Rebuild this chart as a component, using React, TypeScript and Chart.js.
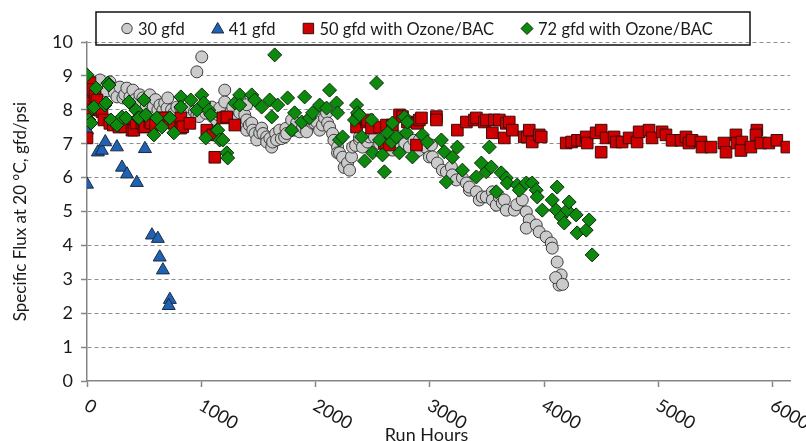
import { useEffect, useRef } from "react";
import { Chart, registerables } from "chart.js";
Chart.register(...registerables);

const FONT = "Lato, 'Open Sans', sans-serif";
const TEXT_COLOR = "#1a1a1a";
const AXIS_COLOR = "#858585";

const SERIES_NAMES = ["30 gfd", "41 gfd", "50 gfd with Ozone/BAC", "72 gfd with Ozone/BAC"];
const X_TICKS = [0, 1000, 2000, 3000, 4000, 5000, 6000];
const X_MAX = 6150;
const Y_MIN = 0;
const Y_MAX = 10;
const X_TITLE = "Run Hours";
const Y_TITLE = "Specific Flux at 20 \u00B0C, gfd/psi";

// [run hours, specific flux]
const gfd30: [number, number][] = [
  [10, 8.75], [30, 8.7], [60, 8.8], [80, 8.6], [114, 8.88], [130, 8.5], [157, 8.64], [170, 8.55],
  [201, 8.82], [227, 8.64], [240, 8.5], [262, 8.38], [288, 8.67], [314, 8.35], [330, 8.45], [349, 8.64],
  [376, 8.38], [402, 8.58], [420, 8.3], [437, 8.2], [463, 8.44], [489, 8.35], [520, 8.25], [520, 8.1],
  [550, 8.44], [560, 8.2], [580, 8.1], [600, 8.3], [620, 8.0], [638, 8.14], [664, 7.99], [680, 8.2],
  [700, 8.05], [707, 8.35], [740, 8.0], [760, 7.9], [786, 8.08], [820, 8.05], [838, 7.94], [860, 7.9],
  [880, 7.85], [900, 8.08], [940, 7.95], [961, 7.85], [961, 9.12], [980, 7.8], [1004, 9.56], [1040, 7.9],
  [1060, 8.0], [1092, 8.08], [1100, 7.79], [1130, 7.7], [1150, 7.85], [1161, 8.05], [1188, 7.79], [1205, 8.58],
  [1205, 8.23], [1240, 7.85], [1260, 7.95], [1275, 8.08], [1300, 7.65], [1320, 7.75], [1336, 8.3], [1336, 7.91],
  [1362, 7.55], [1380, 7.85], [1397, 7.7], [1397, 8.15], [1397, 7.4], [1420, 7.55], [1441, 7.61], [1450, 7.4],
  [1470, 7.3], [1485, 7.11], [1511, 7.32], [1528, 7.46], [1540, 7.3], [1572, 7.2], [1572, 7.05], [1600, 7.15],
  [1616, 6.9], [1624, 7.05], [1650, 7.3], [1659, 7.11], [1685, 7.4], [1700, 7.15], [1729, 7.2], [1740, 7.45],
  [1747, 7.3], [1790, 7.7], [1799, 7.4], [1830, 7.4], [1834, 7.61], [1860, 7.35], [1886, 7.49], [1900, 7.6],
  [1921, 7.46], [1921, 7.35], [1947, 7.7], [1974, 7.61], [1991, 7.61], [2009, 7.64], [2035, 7.4], [2060, 7.55],
  [2078, 7.76], [2096, 7.91], [2105, 7.61], [2122, 7.49], [2148, 7.3], [2160, 7.1], [2192, 6.9], [2192, 6.73],
  [2209, 6.73], [2236, 6.6], [2250, 6.3], [2279, 6.43], [2297, 6.22], [2314, 6.61], [2323, 6.9], [2350, 6.95],
  [2384, 7.11], [2384, 7.2], [2410, 6.9], [2454, 7.05], [2470, 7.2], [2515, 7.2], [2560, 7.0], [2620, 7.02],
  [2672, 6.81], [2700, 7.05], [2733, 7.2], [2780, 7.0], [2821, 6.9], [2860, 7.1], [2900, 6.8], [2908, 7.11],
  [2940, 7.0], [2960, 6.9], [2995, 6.61], [3013, 6.96], [3022, 6.61], [3065, 6.43], [3109, 6.22], [3144, 6.17],
  [3188, 6.31], [3196, 6.08], [3231, 5.93], [3284, 5.99], [3319, 5.84], [3345, 5.63], [3345, 5.72], [3406, 5.58],
  [3432, 5.34], [3458, 5.43], [3493, 5.43], [3546, 5.58], [3546, 5.34], [3581, 5.19], [3607, 5.43], [3633, 5.25],
  [3651, 5.34], [3668, 5.04], [3738, 5.04], [3760, 5.2], [3808, 5.34], [3843, 4.99], [3869, 4.75], [3843, 4.51],
  [3930, 4.6], [3956, 4.4], [4017, 4.25], [4061, 4.07], [4070, 3.92], [4113, 3.51], [4148, 3.13], [4130, 2.83],
  [4100, 3.05], [4160, 2.85],
];

const gfd41: [number, number][] = [
  [0, 5.8], [0, 7.4], [95, 6.75], [130, 6.8], [160, 7.05], [262, 6.9], [306, 6.3], [350, 6.1],
  [436, 5.85], [507, 6.85], [568, 4.3], [620, 4.2], [636, 3.65], [664, 3.27], [725, 2.4], [715, 2.22],
];

const gfd50: [number, number][] = [
  [0, 7.17], [0, 8.5], [10, 8.2], [17, 8.0], [26, 8.8], [50, 8.6], [70, 8.4], [87, 8.29],
  [114, 7.99], [131, 7.94], [148, 7.7], [200, 7.6], [230, 7.55], [279, 7.49], [330, 7.5], [393, 7.4],
  [410, 7.4], [428, 7.61], [480, 7.61], [498, 7.49], [507, 7.5], [550, 7.64], [559, 7.61], [600, 7.55],
  [664, 7.76], [672, 7.76], [725, 7.64], [760, 7.6], [821, 7.76], [821, 7.46], [838, 7.5], [900, 7.6],
  [1048, 7.4], [1100, 7.26], [1118, 6.6], [1188, 7.76], [1223, 7.79], [1293, 7.55],
  [2358, 7.49], [2367, 7.76], [2445, 7.64], [2454, 7.7], [2489, 7.46], [2559, 7.49], [2602, 7.02], [2620, 7.55],
  [2646, 6.96], [2672, 7.55], [2734, 7.85], [2760, 7.8], [2803, 7.64], [2882, 6.96], [2891, 7.6], [2908, 7.7],
  [2926, 7.76], [3057, 7.8], [3057, 7.7],
  [3240, 7.4], [3319, 7.64], [3389, 7.7], [3406, 7.76], [3476, 7.64], [3493, 7.7], [3546, 7.32], [3563, 7.7],
  [3607, 7.7], [3651, 7.17], [3668, 7.6], [3694, 7.64], [3721, 7.4], [3825, 7.2], [3851, 7.2], [3869, 7.4],
  [3895, 7.05], [3956, 7.26], [3974, 7.2],
  [4192, 7.02], [4240, 7.05], [4290, 7.1], [4330, 7.1], [4367, 7.2], [4376, 7.02], [4454, 7.32], [4498, 7.4],
  [4498, 6.75], [4541, 7.17], [4611, 7.2], [4629, 7.05], [4681, 7.05], [4742, 7.17], [4812, 7.05], [4830, 7.35],
  [4917, 7.4], [4943, 7.17], [5031, 7.35], [5065, 7.26], [5118, 7.1], [5197, 7.1], [5240, 7.2], [5266, 7.02],
  [5293, 7.1], [5371, 7.05], [5380, 6.9], [5459, 6.9], [5572, 7.02], [5590, 6.75], [5677, 7.26], [5686, 7.02],
  [5729, 7.05], [5721, 6.8], [5808, 6.9], [5860, 7.4], [5852, 7.26], [5895, 7.02], [5965, 7.02], [6035, 7.1],
  [6122, 6.9],
];

const gfd72: [number, number][] = [
  [0, 9.03], [17, 7.7], [35, 7.61], [52, 8.05], [61, 8.08], [79, 8.64], [157, 8.14], [166, 8.2],
  [183, 8.79], [192, 8.73], [210, 7.7], [262, 7.55], [306, 7.79], [341, 7.76], [367, 8.23], [428, 7.99],
  [445, 7.76], [454, 7.76], [498, 8.29], [515, 7.85], [585, 7.26], [611, 7.76], [655, 7.49], [725, 7.76],
  [760, 7.32], [821, 8.38], [821, 8.08], [908, 8.29], [961, 7.99], [1004, 8.44], [1022, 8.2], [1039, 7.17],
  [1065, 7.99], [1083, 7.85], [1135, 7.4], [1144, 7.4], [1161, 7.11], [1188, 7.11], [1223, 6.73], [1231, 6.58],
  [1293, 8.2], [1336, 8.44], [1336, 8.14], [1441, 8.44], [1467, 8.29], [1528, 8.08], [1598, 8.29], [1616, 7.79],
  [1642, 9.62], [1668, 8.14], [1755, 8.35], [1790, 7.4], [1816, 7.91], [1878, 7.64], [1904, 8.38], [1947, 7.76],
  [1974, 7.91], [2035, 8.14], [2096, 8.05], [2122, 8.58], [2183, 8.2], [2192, 7.91], [2209, 7.11], [2236, 7.2],
  [2340, 7.7], [2358, 8.14], [2367, 7.91], [2384, 7.85], [2402, 7.2], [2428, 6.49], [2489, 7.7], [2498, 6.73],
  [2533, 8.79], [2559, 7.11], [2585, 6.67], [2602, 6.17], [2629, 7.32], [2664, 7.05], [2672, 7.61], [2707, 7.2],
  [2733, 6.73], [2777, 7.79], [2795, 7.32], [2803, 7.64], [2847, 6.61], [2934, 7.26], [2978, 7.05], [3100, 7.11],
  [3126, 6.76], [3144, 5.87], [3197, 6.6], [3240, 6.9], [3284, 6.22], [3406, 6.02], [3450, 6.43], [3493, 6.17],
  [3520, 6.9], [3537, 6.31], [3581, 5.58], [3624, 6.14], [3668, 5.99], [3677, 5.84], [3764, 5.78], [3782, 5.63],
  [3843, 5.84], [3895, 5.84], [3930, 5.63], [3939, 5.43], [3983, 5.04], [4070, 5.34], [4105, 5.04], [4113, 5.72],
  [4148, 4.84], [4175, 4.66], [4201, 5.04], [4218, 5.28], [4279, 4.9], [4288, 4.37], [4367, 4.45], [4393, 4.75],
  [4419, 3.72],
];

type Style = { pointStyle: string; radius: number; legendRadius: number; fill: string; stroke: string };
const STYLES: Style[] = [
  { pointStyle: "circle", radius: 6, legendRadius: 5.2, fill: "#cbcbcb", stroke: "#3c3c3c" },
  { pointStyle: "triangle", radius: 7.5, legendRadius: 7, fill: "#1f62b3", stroke: "#1c2a40" },
  { pointStyle: "rect", radius: 8.2, legendRadius: 7.4, fill: "#d00000", stroke: "#3a0a0a" },
  { pointStyle: "rectRot", radius: 7, legendRadius: 6, fill: "#0d8a0d", stroke: "#0c2a0c" },
];
const SERIES = [gfd30, gfd41, gfd50, gfd72];
const ORDER = [4, 3, 2, 1];

function drawMarker(ctx: CanvasRenderingContext2D, s: Style, x: number, y: number, r: number) {
  ctx.beginPath();
  if (s.pointStyle === "circle") {
    ctx.arc(x, y, r, 0, Math.PI * 2);
  } else if (s.pointStyle === "triangle") {
    ctx.moveTo(x, y - r);
    ctx.lineTo(x + r * 0.866, y + r * 0.5);
    ctx.lineTo(x - r * 0.866, y + r * 0.5);
    ctx.closePath();
  } else if (s.pointStyle === "rect") {
    const h = r * Math.SQRT1_2;
    ctx.rect(x - h, y - h, 2 * h, 2 * h);
  } else {
    ctx.moveTo(x, y - r);
    ctx.lineTo(x + r, y);
    ctx.lineTo(x, y + r);
    ctx.lineTo(x - r, y);
    ctx.closePath();
  }
  ctx.fillStyle = s.fill;
  ctx.strokeStyle = s.stroke;
  ctx.lineWidth = 1;
  ctx.fill();
  ctx.stroke();
}

const decorPlugin = {
  id: "decor",
  afterDraw(chart: any) {
    const ctx: CanvasRenderingContext2D = chart.ctx;
    const xs = chart.scales.x;
    const area = chart.chartArea;
    ctx.save();
    // rotated x tick labels
    ctx.font = `18px ${FONT}`;
    ctx.fillStyle = TEXT_COLOR;
    for (const v of X_TICKS) {
      const px = xs.getPixelForValue(v);
      ctx.save();
      ctx.translate(px - 1, area.bottom + 23);
      ctx.rotate((30 * Math.PI) / 180);
      ctx.textAlign = "left";
      ctx.textBaseline = "middle";
      ctx.fillText(String(v), 0, 0);
      ctx.restore();
    }
    // x title
    ctx.textAlign = "center";
    ctx.textBaseline = "middle";
    ctx.fillText(X_TITLE, (area.left + area.right) / 2 - 12, area.bottom + 54);

    // legend
    ctx.font = `16.5px ${FONT}`;
    const boxLeft = area.left + 9;
    const boxTop = area.top - 30;
    const boxRight = area.right - 40;
    const boxH = 33;
    ctx.lineWidth = 1.5;
    ctx.strokeStyle = "#111";
    ctx.strokeRect(boxLeft, boxTop, boxRight - boxLeft, boxH);
    const cy = boxTop + boxH / 2;
    let mx = boxLeft + 31;
    ctx.textAlign = "left";
    ctx.textBaseline = "middle";
    SERIES_NAMES.forEach((name, i) => {
      const s = STYLES[i];
      drawMarker(ctx, s, mx, cy + (s.pointStyle === "triangle" ? 1 : 0), s.legendRadius);
      ctx.fillStyle = TEXT_COLOR;
      const tx = mx + 11;
      ctx.fillText(name, tx, cy + 1);
      mx = tx + ctx.measureText(name).width + 33;
    });
    ctx.restore();
  },
};

export default function App() {
  const canvasRef = useRef<HTMLCanvasElement | null>(null);
  useEffect(() => {
    if (!canvasRef.current) return;
    const chart = new Chart(canvasRef.current, {
      type: "scatter",
      data: {
        datasets: SERIES.map((arr, i) => ({
          label: SERIES_NAMES[i],
          data: arr.map(([x, y]) => ({ x, y })),
          pointStyle: STYLES[i].pointStyle as any,
          pointRadius: STYLES[i].radius,
          pointBackgroundColor: STYLES[i].fill,
          pointBorderColor: STYLES[i].stroke,
          pointBorderWidth: 1,
          backgroundColor: STYLES[i].fill,
          borderColor: STYLES[i].stroke,
          showLine: false,
          order: ORDER[i],
        })),
      },
      options: {
        animation: false,
        responsive: false,
        events: [],
        layout: { padding: { left: 0, right: 16, top: 42, bottom: 0 } },
        plugins: { legend: { display: false }, tooltip: { enabled: false }, title: { display: false } },
        scales: {
          x: {
            type: "linear",
            min: 0,
            max: X_MAX,
            afterBuildTicks: (s: any) => {
              s.ticks = X_TICKS.map((v) => ({ value: v }));
            },
            afterFit: (s: any) => {
              s.height = 60;
            },
            ticks: { display: true, color: "rgba(0,0,0,0)", font: { size: 1 } },
            grid: { drawOnChartArea: false, drawTicks: true, tickLength: 6, tickColor: AXIS_COLOR, tickWidth: 1.5 },
            border: { display: true, color: AXIS_COLOR, width: 1.5 },
          },
          y: {
            type: "linear",
            min: Y_MIN,
            max: Y_MAX,
            afterFit: (s: any) => {
              s.width = 87;
            },
            ticks: { stepSize: 1, padding: 8, color: TEXT_COLOR, font: { family: FONT, size: 18 } },
            grid: {
              color: (c: any) => (c.tick && c.tick.value === 0 ? "rgba(0,0,0,0)" : "#8f8f8f"),
              lineWidth: 1,
              drawTicks: true,
              tickLength: 6,
              tickColor: AXIS_COLOR,
              tickWidth: 1.5,
              tickBorderDash: [],
            },
            border: { display: true, color: AXIS_COLOR, width: 1.5, dash: [4, 3] },
            title: {
              display: true,
              text: Y_TITLE,
              color: TEXT_COLOR,
              font: { family: FONT, size: 17 },
              padding: { top: 10, bottom: 0 },
            },
          },
        },
      },
      plugins: [decorPlugin],
    } as any);
    return () => chart.destroy();
  }, []);
  return (
    <div style={{ position: "fixed", left: 0, top: 0, width: 806, height: 441, background: "#fff" }}>
      <canvas ref={canvasRef} width={806} height={441} />
    </div>
  );
}
